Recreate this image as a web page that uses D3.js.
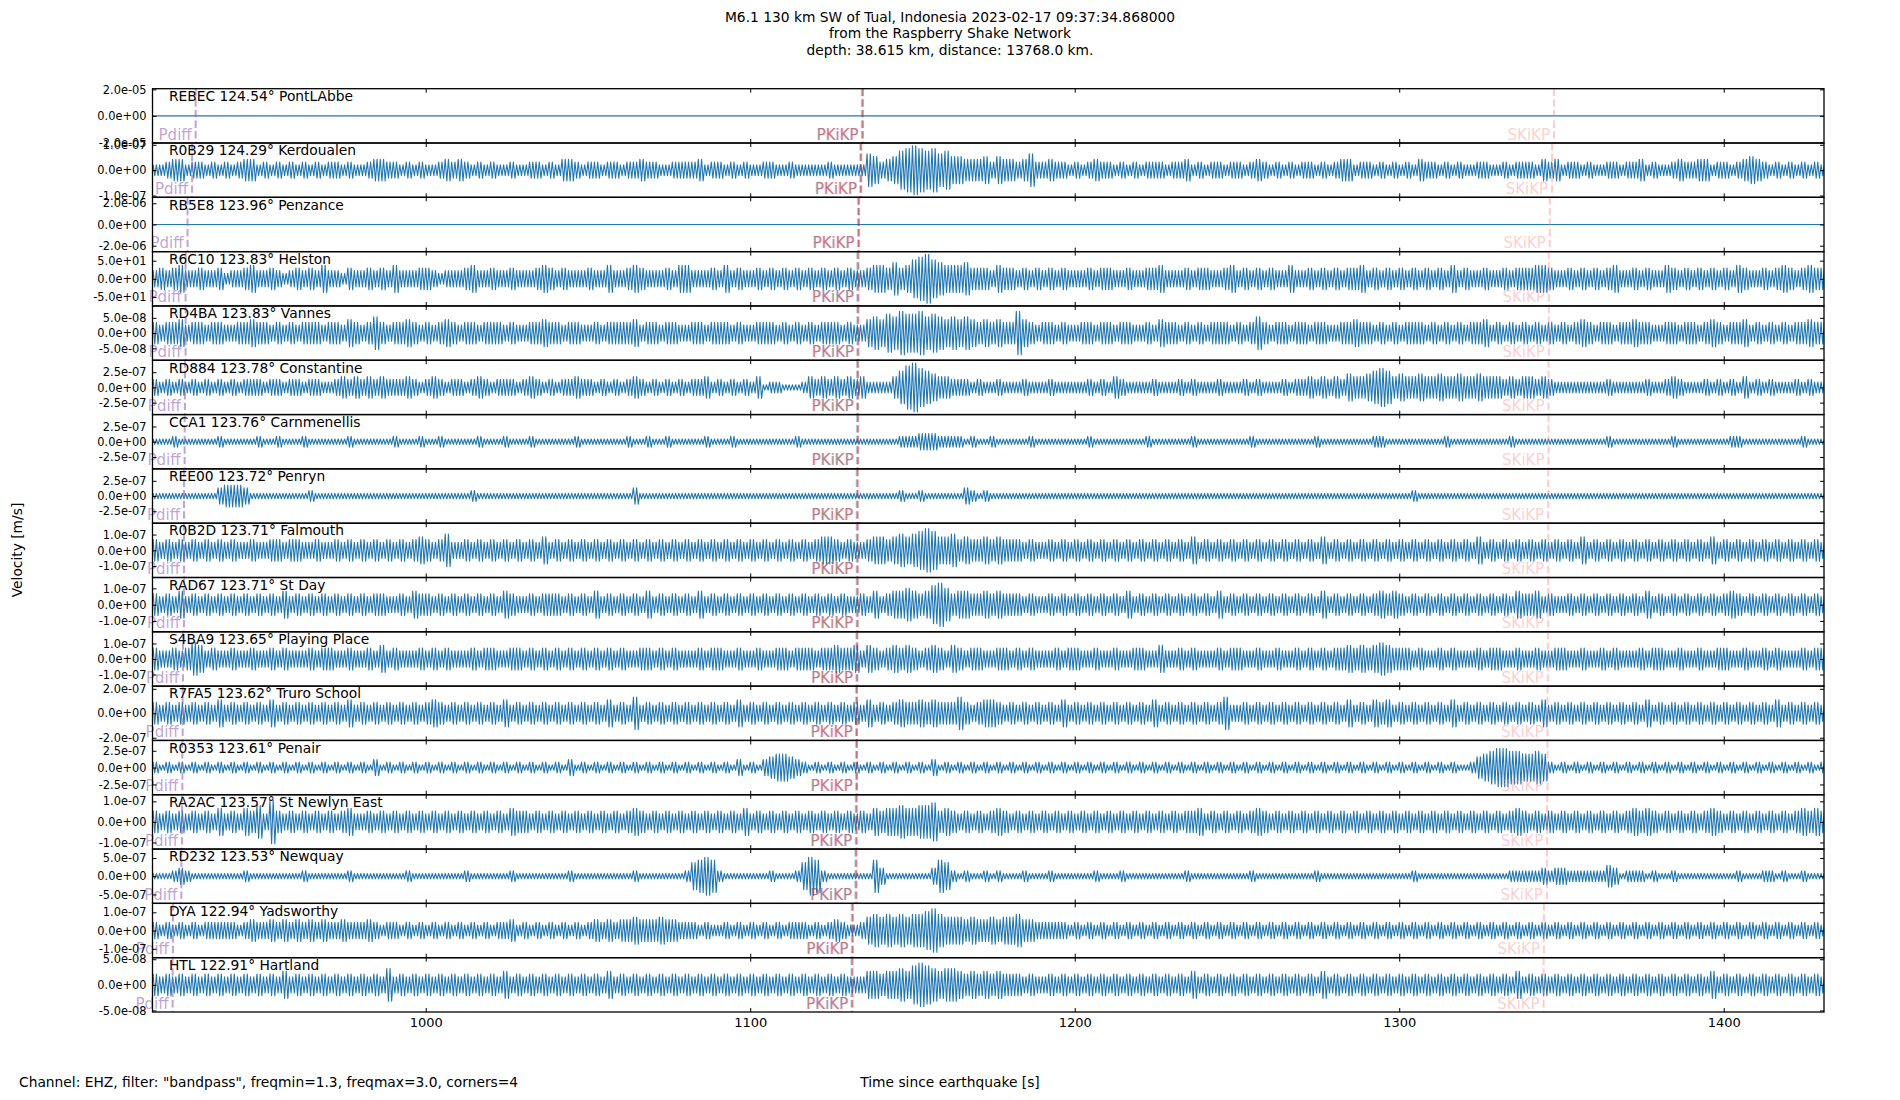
<!DOCTYPE html>
<html><head><meta charset="UTF-8"><title>Raspberry Shake section</title>
<script src="https://cdn.jsdelivr.net/npm/d3@7"></script>
<style>
	body { margin:0; background:#fff; }
	svg  { font-family:"DejaVu Sans", sans-serif; }
</style>
</head><body>
<script>
// station traces, top to bottom
var stations=['REBEC','R0B29','RB5E8','R6C10','RD4BA','RD884','CCA1','REE00','R0B2D','RAD67','S4BA9','R7FA5','R0353','RA2AC','RD232','DYA','HTL'];
var dists=[124.54,124.29,123.96,123.83,123.83,123.78,123.76,123.72,123.71,123.71,123.65,123.62,123.61,123.57,123.53,122.94,122.91];
var places=['PontLAbbe','Kerdoualen','Penzance','Helston','Vannes','Constantine','Carnmenellis','Penryn','Falmouth','St Day','Playing Place','Truro School','Penair','St Newlyn East','Newquay','Yadsworthy','Hartland'];
// half range of each panel and the tick shown on it
var ymax=[2.05e-5,1.07e-7,2.56e-6,75,8.9e-8,4.46e-7,4.46e-7,4.46e-7,1.72e-7,1.67e-7,1.75e-7,2.22e-7,4.03e-7,1.32e-7,7.46e-7,1.49e-7,5.3e-8];
var yticks=[2e-5,1e-7,2e-6,50,5e-8,2.5e-7,2.5e-7,2.5e-7,1e-7,1e-7,1e-7,2e-7,2.5e-7,1e-7,5e-7,1e-7,5e-8];
// phase arrivals [s]
var pdiff=[929.1,928.0,926.6,926.0,926.0,925.8,925.7,925.5,925.5,925.5,925.2,925.1,925.0,924.9,924.7,922.1,922.0];
var pkikp=[1134.7,1134.2,1133.5,1133.3,1133.3,1133.2,1133.2,1133.1,1133.1,1133.1,1133.0,1132.9,1132.9,1132.8,1132.7,1131.6,1131.5];
var skikp=[1347.7,1347.1,1346.4,1346.1,1346.1,1346.0,1346.0,1345.9,1345.9,1345.9,1345.8,1345.7,1345.7,1345.6,1345.5,1344.6,1344.5];
// peak amplitude per 2 s bin from 910 s, in tenths of the panel half range
var binStart=910, binLen=2;
var env=[
"00000 00000 00000 00000 00000 00000 00000 00000 00000 00000 00000 00000 00000 00000 00000 00000 00000 00000 00000 00000 00000 00000 00000 00000 00000 00000 00000 00000 00000 00000 00000 00000 00000 00000 00000 00000 00000 00000 00000 00000 00000 00000 00000 00000 00000 00000 00000 00000 00000 00000 00000 00000 00000",
"22322 34423 32323 23442 32323 23232 33232 23443 32323 22343 43232 32232 23323 24432 33233 23343 32233 33423 32323 22332 23222 22322 22265 34578 98786 75544 45354 43463 34332 32343 32323 23332 33423 23323 32343 23232 33232 34423 32323 23243 32323 22332 23233 32434 23323 22332 33423 22343 34423 32345 43232 32323 23232",
"00000 00000 00000 00000 00000 00000 00000 00000 00000 00000 00000 00000 00000 00000 00000 00000 00000 00000 00000 00000 00000 00000 00000 00000 00000 00000 00000 00000 00000 00000 00000 00000 00000 00000 00000 00000 00000 00000 00000 00000 00000 00000 00000 00000 00000 00000 00000 00000 00000 00000 00000 00000 00000",
"33434 34533 43342 33453 34323 43435 33243 34343 53334 43233 34533 43343 33454 34333 43353 34543 33435 53334 35343 34343 43434 34343 43345 54645 78976 55564 44354 43434 34343 33434 43343 34453 33434 43345 34343 43353 34343 43445 34343 43434 34353 43343 34344 45543 34343 43453 34343 35434 34343 43543 34345 43454 45343",
"34343 44534 43443 34454 43434 34443 44354 34643 44543 43454 34434 44343 34454 43443 34344 44534 43443 34434 44343 34443 43434 34443 43356 57687 78676 56565 45454 48543 44343 34434 43443 34354 43434 34443 43464 34434 43443 34454 43434 34443 43434 34453 43434 34343 43454 34434 45443 34434 43454 34453 43434 34454 45434",
"23232 32323 23232 32333 23323 32332 23434 34343 33432 34323 32343 23332 34323 23343 32323 23432 32323 23342 32323 24122 11124 34343 43422 22468 97654 43332 32232 22322 23222 22323 24322 22322 23232 22322 23232 22323 34343 43544 56764 54454 45445 44544 43434 43432 22222 22322 22232 23432 22323 23242 32322 23232 22322",
"11211 12111 11121 11112 11211 12111 11121 11111 21112 11211 11121 11211 12111 11121 11111 12112 11211 11121 11211 11111 11211 11111 11111 11122 23332 22212 11211 11121 11111 11211 11111 12111 11121 11111 11211 11111 11211 11111 12211 11111 11211 11111 11211 11111 11111 11211 11111 11211 11111 12211 11111 11211 11111",
"11111 11111 11134 44311 11111 11211 11111 11111 11111 11111 11211 11111 11111 11111 11111 11311 11111 11111 11111 11111 11111 11111 11111 11121 12111 11132 12111 11111 11111 11111 11111 11111 11111 11111 11111 11111 11111 11111 11111 11211 11111 11111 11111 11111 11111 11111 11111 11111 11111 11111 11111 11111 11111",
"34343 43434 34343 43343 34434 43343 34343 43434 34345 43463 34343 43434 34353 43434 34343 43434 34343 43434 34343 43434 34343 45543 43345 54565 67875 56454 45454 44343 34343 43434 34343 43434 34353 43434 34343 43434 34353 43434 34343 43434 34343 43534 34343 43434 34353 43434 34343 43434 34353 43434 34343 43434 34343",
"35343 43534 34343 43434 34353 43434 34343 43443 34354 43434 34343 43543 34344 43434 35343 43435 34343 43534 34343 43434 34343 43434 33435 34556 54578 64554 45454 44343 34343 43434 34353 43434 34343 43534 34343 43434 34353 43434 34545 43434 34343 43434 34354 45343 34343 43434 34353 43434 34343 45434 34343 43434 34343",
"34343 34346 53433 43343 34343 33434 43343 34353 43334 34343 33434 43344 34343 43434 34343 43344 34343 33434 43343 34334 43444 34454 45354 34545 43454 35434 43344 34343 33434 43343 34334 43353 34343 33434 43343 34334 34343 44545 45654 44343 34343 33434 43343 34334 43343 34343 33434 43343 34334 43343 34343 33434 43343",
"34343 43434 34353 43434 35343 43434 34353 43434 34343 45434 34343 43534 34343 43434 34353 43634 34343 43434 34353 43434 34343 43434 34353 43454 45454 44643 45543 43434 34353 43434 34343 43534 34343 43463 34343 43434 34343 43534 35453 43434 34353 43434 34343 43534 34343 43434 34353 43434 34343 43434 34353 43434 34343",
"12121 21212 12121 21212 12121 21212 12121 21312 12121 21212 12121 21212 12121 21312 12121 21212 12121 21212 12131 21345 54321 21212 12121 21212 12131 21212 12121 21212 12121 21212 12121 21212 12121 21212 12121 21212 12121 21212 12121 21212 12121 12456 77665 56521 21212 12121 21212 12121 21212 12121 21212 12121 21212",
"34343 43434 34353 43546 38434 34343 43453 34343 43434 34343 43434 34354 43434 34343 43434 34543 43434 34343 43435 34343 43434 34343 43435 45565 56674 54343 43454 34343 43434 34343 43434 34343 43445 34343 43454 34343 43434 34343 43434 34343 43434 34343 43454 34343 43434 34343 45454 34343 43454 34343 43434 34545 43434",
"11111 12321 11111 11211 11111 12111 11121 11111 11211 11111 12111 11121 11111 11211 11111 11211 11111 25676 21111 11121 11257 62111 11116 31111 11136 52121 12121 11211 12111 11121 11211 11111 11211 11111 11211 11111 11211 11111 11111 11211 11111 11111 11222 22323 32222 22431 22212 11211 11111 11211 12212 11211 11111",
"23232 32323 23333 32343 34343 43434 33433 34323 32323 23232 32323 23342 32323 23232 34343 44544 45443 33232 23232 32323 23332 32343 22356 56565 66786 55545 44545 56443 33332 32323 23232 32323 23232 32323 23232 32323 23232 32323 23232 32323 23232 32323 23232 32323 23232 32323 23232 32323 23232 32323 23232 32323 23232",
"34343 43434 34343 43434 34353 43434 34343 43436 34343 43434 34343 43534 34343 43434 34353 43434 34343 43434 34343 43434 34343 43434 33355 45565 78765 66545 45454 44343 34343 43434 34343 43434 34353 43434 34343 43434 34353 43434 34343 43434 34343 43434 34353 43434 34343 43434 34343 43434 34353 43434 34343 43434 34343"
];
var xDomain=[915.8,1430.9];
var xTicks=[1000,1100,1200,1300,1400];
var titleLines=['M6.1 130 km SW of Tual, Indonesia 2023-02-17 09:37:34.868000','from the Raspberry Shake Network','depth: 38.615 km, distance: 13768.0 km.'];

var W=1900,H=1100, mLeft=152.5,mRight=1824, mTop=88.7,mBottom=1012;
var n=stations.length, ph=(mBottom-mTop)/n;
var traceCol='#1f77b4';

var svg=d3.select('body').append('svg').attr('width',W).attr('height',H);
var x=d3.scaleLinear().domain(xDomain).range([mLeft,mRight]);

function sci(v){ // 2.0e-05 style like matplotlib %.1e
	return v.toExponential(1).replace(/e([+-])(\d)$/,'e$10$2');
}

var phases=[
	{name:'Pdiff', t:pdiff, col:'#9467bd', op:0.6, dx:0},
	{name:'PKiKP', t:pkikp, col:'#1f77b4', op:0.35, dx:-1},
	{name:'PKiKP', t:pkikp, col:'#d62728', op:0.55, dx:0},
	{name:'SKiKP', t:skikp, col:'#ff7f7f', op:0.4, dx:0}
];

stations.forEach(function(st,i){
	var y0=mTop+i*ph;
	var y=d3.scaleLinear().domain([-ymax[i],ymax[i]]).range([y0+ph,y0]);
	var g=svg.append('g');
	g.append('clipPath').attr('id','clip'+i).append('rect')
		.attr('x',mLeft).attr('y',y0).attr('width',mRight-mLeft).attr('height',ph);

	// each bin drawn as two up/down strokes reaching its peak amplitude
	var s=env[i].replace(/\s/g,''), pts=[];
	for(var k=0;k<s.length;k++){
		var t=binStart+k*binLen, a=(+s[k])/10*ymax[i];
		pts.push([t,a],[t+0.5,-a],[t+1,a],[t+1.5,-a]);
	}
	var line=d3.line().x(function(d){return x(d[0]);}).y(function(d){return y(d[1]);});
	g.append('path').attr('clip-path','url(#clip'+i+')').attr('d',line(pts))
		.attr('fill','none').attr('stroke',traceCol).attr('stroke-width',1.1).attr('stroke-linejoin','round');

	// phase markers
	phases.forEach(function(p){
		var px=x(p.t[i])+p.dx;
		g.append('line').attr('x1',px).attr('x2',px).attr('y1',y0).attr('y2',y0+ph)
			.attr('stroke',p.col).attr('stroke-opacity',p.op).attr('stroke-width',2).attr('stroke-dasharray','7.4,3.2');
		g.append('text').attr('x',px-4).attr('y',y0+ph-3.5).attr('text-anchor','end')
			.attr('font-size',15).attr('fill',p.col).attr('fill-opacity',p.op).text(p.name);
	});

	g.append('text').attr('x',169).attr('y',y0+12.3).attr('font-size',13.8).attr('fill','#000')
		.text(st+' '+dists[i].toFixed(2)+'\u00b0 '+places[i]);

	// axes
	var tv=[-yticks[i],0,yticks[i]];
	var ax=[
		g.append('g').attr('transform','translate(0,'+y0+')')
			.call(d3.axisTop(x).tickValues(xTicks).tickSizeInner(-4).tickSizeOuter(0).tickFormat('')),
		g.append('g').attr('transform','translate(0,'+(y0+ph)+')')
			.call(d3.axisBottom(x).tickValues(xTicks).tickSizeInner(-4).tickSizeOuter(0).tickPadding(6)
				.tickFormat(i==n-1?d3.format('d'):function(){return '';})),
		g.append('g').attr('transform','translate('+mLeft+',0)')
			.call(d3.axisLeft(y).tickValues(tv).tickSizeInner(-4).tickSizeOuter(0).tickPadding(6).tickFormat(sci)),
		g.append('g').attr('transform','translate('+mRight+',0)')
			.call(d3.axisRight(y).tickValues(tv).tickSizeInner(-4).tickSizeOuter(0).tickFormat(''))
	];
	ax.forEach(function(a){
		a.select('.domain').remove();
		a.attr('font-family',null);
		a.selectAll('line').attr('stroke','#000').attr('stroke-width',1);
		a.selectAll('text').attr('fill','#000');
	});
	ax[2].attr('font-size',11.4);
	ax[1].attr('font-size',13);

	g.append('rect').attr('x',mLeft).attr('y',y0).attr('width',mRight-mLeft).attr('height',ph)
		.attr('fill','none').attr('stroke','#000').attr('stroke-width',1.3);
});

// title
svg.append('g').selectAll('text').data(titleLines).join('text')
	.attr('x',W/2).attr('y',function(d,j){return 21.7+j*16.4;})
	.attr('text-anchor','middle').attr('font-size',13.8).text(function(d){return d;});

svg.append('text').attr('transform','translate(22,550) rotate(-90)')
	.attr('text-anchor','middle').attr('font-size',13.8).text('Velocity [m/s]');
svg.append('text').attr('x',W/2).attr('y',1087).attr('text-anchor','middle')
	.attr('font-size',13.8).text('Time since earthquake [s]');
svg.append('text').attr('x',19).attr('y',1087)
	.attr('font-size',13.8).text('Channel: EHZ, filter: "bandpass", freqmin=1.3, freqmax=3.0, corners=4');
</script>
</body></html>
